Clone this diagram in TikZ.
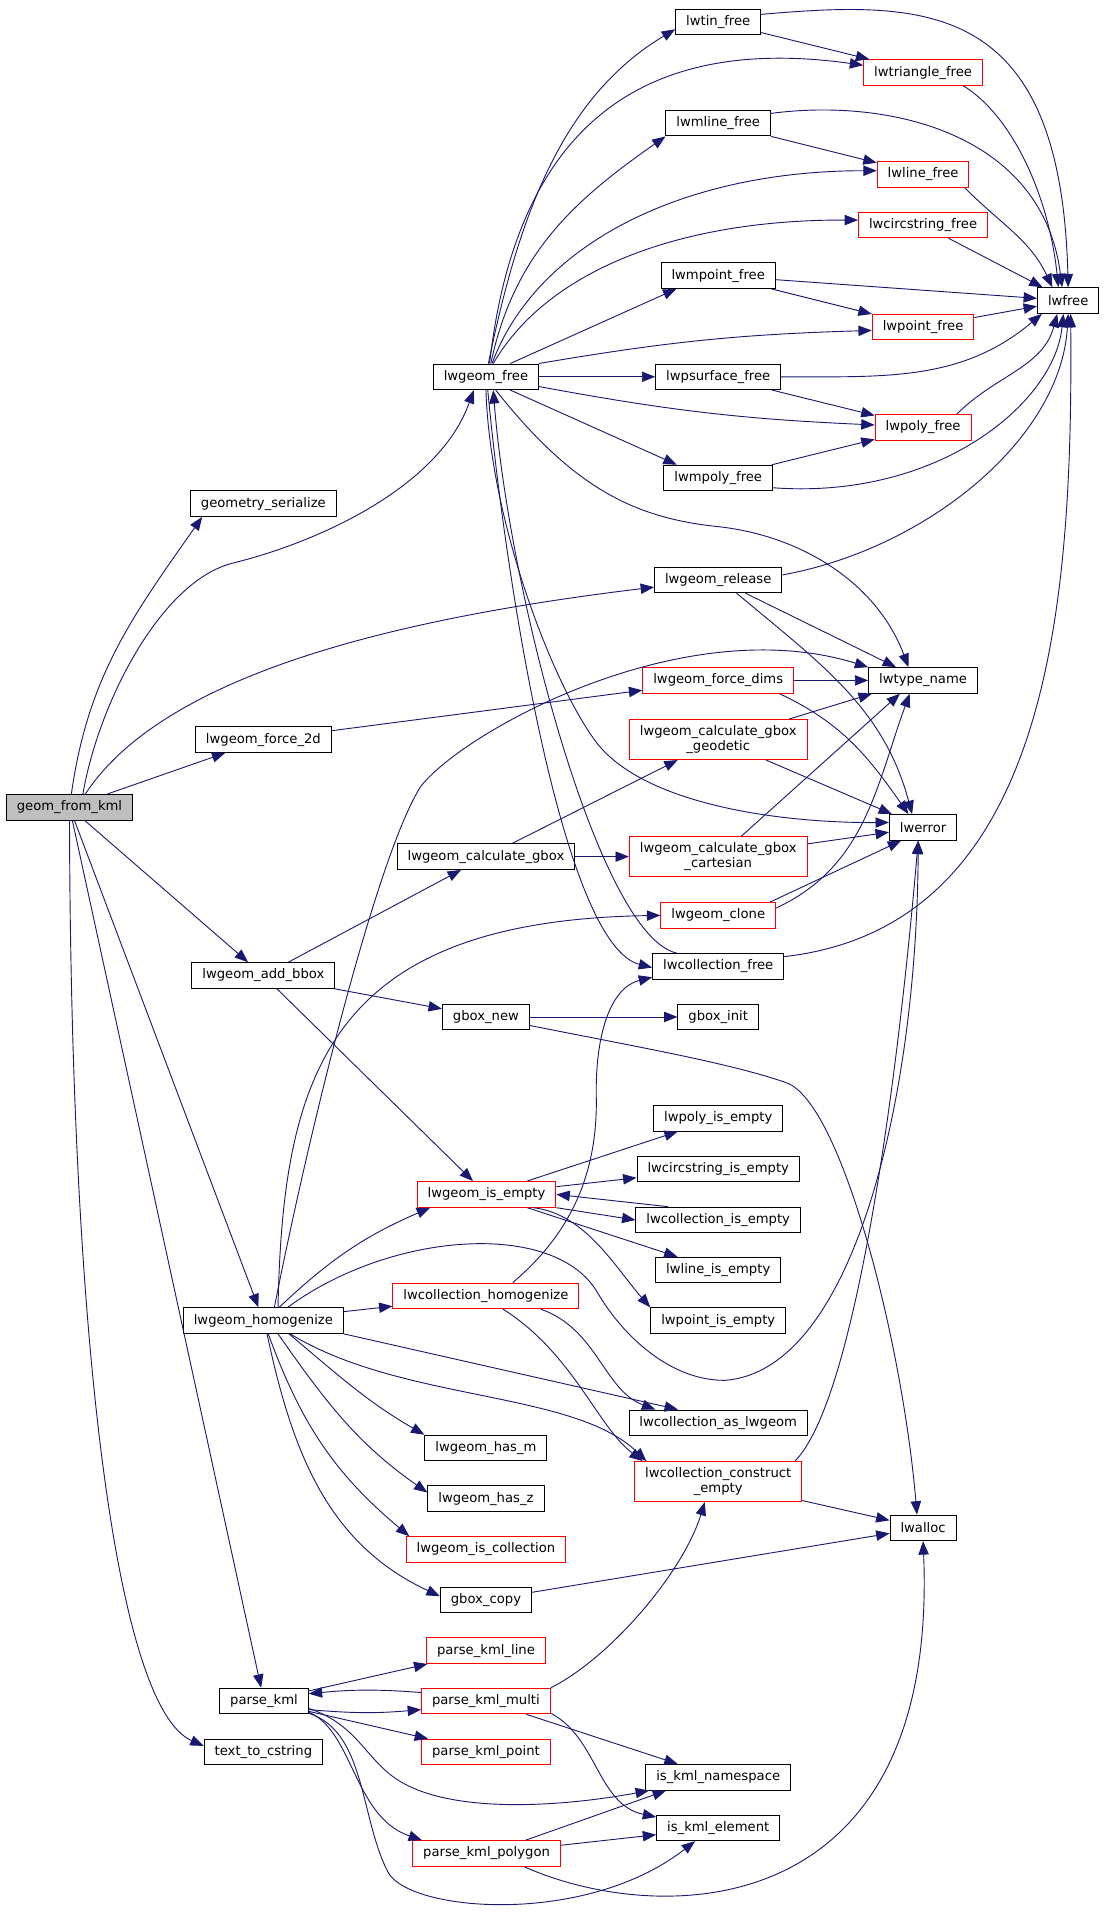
\documentclass[tikz,border=0pt]{standalone}
\usepackage{fontspec}
\setmainfont{DejaVu Sans}
\usetikzlibrary{arrows.meta}

\definecolor{callblue}{HTML}{191970}
\definecolor{rootgray}{HTML}{BFBFBF}

\tikzset{
  fn/.style={draw=black, line width=0.8pt, fill=white, inner xsep=8.6pt, inner ysep=5pt,
    minimum height=21pt, align=center, font=\fontsize{10.8}{12}\selectfont},
  fnred/.style={fn, draw=red},
  fnroot/.style={fn, fill=rootgray},
  call/.style={draw=callblue, line width=0.75pt, -{Triangle[length=11pt,width=8.5pt]}}
}

\begin{document}
\begin{tikzpicture}[x=1pt,y=1pt]
\useasboundingbox (0,0) rectangle (905,-1568);

% functions
\node[fn] (tinfree) at (589,-18) {lwtin\_free};
\node[fnred] (trifree) at (757,-59.5) {lwtriangle\_free};
\node[fn] (mlinefree) at (589,-101) {lwmline\_free};
\node[fnred] (linefree) at (757,-143) {lwline\_free};
\node[fnred] (circfree) at (757,-184.5) {lwcircstring\_free};
\node[fn] (mpointfree) at (589,-226) {lwmpoint\_free};
\node[fn] (lwfree) at (876,-246.5) {lwfree};
\node[fnred] (pointfree) at (757,-268) {lwpoint\_free};
\node[fn] (gfree) at (398.5,-309) {lwgeom\_free};
\node[fn] (psurffree) at (589,-309) {lwpsurface\_free};
\node[fnred] (polyfree) at (757,-350.5) {lwpoly\_free};
\node[fn] (mpolyfree) at (589,-392) {lwmpoly\_free};
\node[fn] (geomser) at (216,-413) {geometry\_serialize};
\node[fn] (release) at (589,-475.5) {lwgeom\_release};
\node[fnred] (forcedims) at (589,-558) {lwgeom\_force\_dims};
\node[fn] (typename) at (757,-558) {lwtype\_name};
\node[fn] (force2d) at (216,-606.5) {lwgeom\_force\_2d};
\node[fnred] (geodetic) at (589,-606.5) {lwgeom\_calculate\_gbox\\\_geodetic};
\node[fnroot] (kml) at (57,-662) {geom\_from\_kml};
\node[fn] (lwerror) at (757,-678.5) {lwerror};
\node[fn] (calcgbox) at (398.5,-702.5) {lwgeom\_calculate\_gbox};
\node[fnred] (cartesian) at (589,-702.5) {lwgeom\_calculate\_gbox\\\_cartesian};
\node[fnred] (clone) at (589,-750.7) {lwgeom\_clone};
\node[fn] (collfree) at (589,-792.5) {lwcollection\_free};
\node[fn] (addbbox) at (216,-800) {lwgeom\_add\_bbox};
\node[fn] (gboxnew) at (398.5,-834) {gbox\_new};
\node[fn] (gboxinit) at (589,-834) {gbox\_init};
\node[fn] (polyempty) at (589,-917) {lwpoly\_is\_empty};
\node[fn] (circempty) at (589,-958.5) {lwcircstring\_is\_empty};
\node[fnred] (isempty) at (399,-979.5) {lwgeom\_is\_empty};
\node[fn] (collempty) at (589,-1000.5) {lwcollection\_is\_empty};
\node[fn] (lineempty) at (589,-1041.6) {lwline\_is\_empty};
\node[fnred] (collhomog) at (398.5,-1062.7) {lwcollection\_homogenize};
\node[fn] (homog) at (216,-1083) {lwgeom\_homogenize};
\node[fn] (pointempty) at (589,-1083) {lwpoint\_is\_empty};
\node[fn] (collaslw) at (589,-1166.8) {lwcollection\_as\_lwgeom};
\node[fn] (hasm) at (398.5,-1187.5) {lwgeom\_has\_m};
\node[fnred] (construct) at (589,-1215) {lwcollection\_construct\\\_empty};
\node[fn] (hasz) at (398.5,-1229) {lwgeom\_has\_z};
\node[fn] (lwalloc) at (757,-1253) {lwalloc};
\node[fnred] (iscoll) at (398.5,-1270.7) {lwgeom\_is\_collection};
\node[fn] (gboxcopy) at (398.5,-1312) {gbox\_copy};
\node[fnred] (kmlline) at (398.5,-1353.7) {parse\_kml\_line};
\node[fn] (parsekml) at (216.5,-1395) {parse\_kml};
\node[fnred] (kmlmulti) at (398.5,-1395) {parse\_kml\_multi};
\node[fn] (textcs) at (216,-1436.8) {text\_to\_cstring};
\node[fnred] (kmlpoint) at (398.5,-1436.8) {parse\_kml\_point};
\node[fn] (namespace) at (589,-1457.5) {is\_kml\_namespace};
\node[fn] (element) at (589,-1499) {is\_kml\_element};
\node[fnred] (kmlpoly) at (399,-1520) {parse\_kml\_polygon};

% geom_from_kml
\draw[call] (kml) to[out=82,in=235] ([xshift=10pt]geomser.south west);
\draw[call] ([xshift=11pt]kml.north) .. controls (80,-580) and (130,-478) .. (190,-462) .. controls (260,-445) and (360,-400) .. ([xshift=-10pt]gfree.south);
\draw[call] ([xshift=13pt]kml.north) .. controls (130,-560) and (300,-510) .. ([yshift=-6pt]release.west);
\draw[call] (kml) -- (force2d);
\draw[call] (kml) -- (addbbox);
\draw[call] (kml) -- (homog);
\draw[call] (kml) -- (parsekml);
\draw[call] (kml.south) .. controls (58,-1100) and (95,-1400) .. ([yshift=5pt]textcs.west);

% lwgeom_free
\draw[call] ([xshift=2pt]gfree.north) .. controls (425,-179) and (460,-80) .. ([yshift=-6pt]tinfree.west);
\draw[call] ([xshift=3pt]gfree.north) .. controls (425,-90) and (540,-30) .. ([yshift=6pt]trifree.west);
\draw[call] ([xshift=4pt]gfree.north) to[out=78,in=215] (mlinefree.south west);
\draw[call] ([xshift=5pt]gfree.north) .. controls (440,-200) and (560,-140) .. ([yshift=3pt]linefree.west);
\draw[call] ([xshift=6pt]gfree.north) .. controls (450,-220) and (560,-180) .. ([yshift=4pt]circfree.west);
\draw[call] ([xshift=20pt]gfree.north) -- ([xshift=13pt]mpointfree.south west);
\draw[call] (gfree.north east) to[bend left=4] ([yshift=-3pt]pointfree.west);
\draw[call] (gfree) -- (psurffree);
\draw[call] ([yshift=-8pt]gfree.east) to[bend right=4] ([yshift=2pt]polyfree.west);
\draw[call] ([xshift=20pt]gfree.south) -- ([xshift=-34pt]mpolyfree.north);
\draw[call] ([xshift=8pt]gfree.south) .. controls (470,-400) and (520,-425) .. (590,-432) .. controls (660,-440) and (720,-480) .. ([xshift=-12pt]typename.north);
\draw[call] (gfree.south) .. controls (402,-430) and (455,-565) .. (490,-610) .. controls (530,-660) and (640,-675) .. ([yshift=4pt]lwerror.west);
\draw[call] ([xshift=1.5pt]gfree.south) .. controls (415,-480) and (462,-775) .. ([yshift=-1pt]collfree.west);
\draw[call] ([xshift=-34pt]collfree.north) .. controls (492,-768) and (418,-490) .. ([xshift=6pt]gfree.south);

% into lwfree
\draw[call] (tinfree) -- (trifree);
\draw[call] (tinfree.10) .. controls (760,0) and (870,0) .. (lwfree.north);
\draw[call] ([xshift=-16pt]trifree.south east) .. controls (830,-95) and (860,-160) .. ([xshift=-8pt]lwfree.north);
\draw[call] (mlinefree) -- (linefree);
\draw[call] ([yshift=8pt]mlinefree.east) .. controls (730,-80) and (855,-110) .. ([xshift=-5pt]lwfree.north);
\draw[call] ([xshift=-4pt]linefree.south east) to[out=-45,in=115] ([xshift=-13pt]lwfree.north);
\draw[call] (circfree) -- (lwfree);
\draw[call] (mpointfree) -- (pointfree);
\draw[call] (mpointfree) -- (lwfree);
\draw[call] (pointfree) -- (lwfree);
\draw[call] (psurffree) -- (polyfree);
\draw[call] (psurffree.east) to[out=0,in=-140] ([xshift=4pt]lwfree.south west);
\draw[call] (mpolyfree) -- (polyfree);
\draw[call] ([xshift=-12pt]polyfree.north east) to[out=45,in=-105] ([xshift=-9pt]lwfree.south);
\draw[call] ([yshift=-8pt]mpolyfree.east) .. controls (770,-410) and (865,-330) .. ([xshift=-4pt]lwfree.south);
\draw[call] ([yshift=4pt]release.east) .. controls (760,-450) and (870,-360) .. (lwfree.south);
\draw[call] ([yshift=8pt]collfree.east) .. controls (860,-760) and (880,-500) .. ([xshift=2pt]lwfree.south);

% lwtype_name and lwerror
\draw[call] (release) -- (typename);
\draw[call] ([xshift=15pt]release.south) to[out=-40,in=105] ([xshift=-9pt]lwerror.north);
\draw[call] (force2d) -- (forcedims);
\draw[call] (forcedims) -- (typename);
\draw[call] ([xshift=-12pt]forcedims.south east) to[out=-25,in=125] ([xshift=-12pt]lwerror.north);
\draw[call] ([xshift=58pt]geodetic.north) -- ([xshift=-42pt]typename.south);
\draw[call] (geodetic) -- (lwerror);
\draw[call] (calcgbox) -- (geodetic);
\draw[call] (calcgbox) -- (cartesian);
\draw[call] (cartesian) -- (lwerror);
\draw[call] ([xshift=19pt]cartesian.north) -- ([xshift=-19pt]typename.south);
\draw[call] ([xshift=-5pt]clone.north east) -- ([xshift=-18pt]lwerror.south);
\draw[call] ([yshift=6pt]clone.east) to[out=25,in=-110] ([xshift=-11pt]typename.south);

% lwgeom_add_bbox
\draw[call] (addbbox) -- (calcgbox);
\draw[call] (addbbox) -- (gboxnew);
\draw[call] (addbbox) -- (isempty);
\draw[call] (gboxnew) -- (gboxinit);
\draw[call] ([yshift=-7pt]gboxnew.east) .. controls (520,-858) and (600,-872) .. (645,-888) .. controls (690,-904) and (740,-1100) .. ([xshift=-5pt]lwalloc.north);

% lwgeom_homogenize
\draw[call] ([xshift=9pt]homog.north) .. controls (255,-920) and (310,-700) .. (345,-645) .. controls (380,-600) and (560,-500) .. (typename.north west);
\draw[call] ([xshift=12pt]homog.north) .. controls (232,-880) and (270,-755) .. (clone.west);
\draw[call] ([xshift=13pt]homog.north) to[bend left=10] ([xshift=11pt]isempty.south west);
\draw[call] ([xshift=20pt]homog.north) .. controls (320,-1010) and (455,-1000) .. (490,-1060) .. controls (511,-1096) and (550,-1132) .. (594,-1132) .. controls (700,-1125) and (752,-900) .. ([xshift=-4pt]lwerror.south);
\draw[call] (homog) -- (collhomog);
\draw[call] (homog.south east) -- ([xshift=-33pt]collaslw.north);
\draw[call] ([xshift=22pt]homog.south) .. controls (330,-1150) and (470,-1140) .. ([xshift=10pt]construct.north west);
\draw[call] ([xshift=21pt]homog.south) to[out=-40,in=150] (hasm.north west);
\draw[call] ([xshift=12pt]homog.south) to[out=-55,in=145] ([yshift=5pt]hasz.west);
\draw[call] ([xshift=4pt]homog.south) to[out=-70,in=140] ([xshift=3pt]iscoll.north west);
\draw[call] ([xshift=3pt]homog.south) to[out=-78,in=155] ([yshift=3pt]gboxcopy.west);

% lwcollection_homogenize
\draw[call] ([xshift=22pt]collhomog.north) .. controls (470,-1010) and (490,-960) .. (489,-900) .. controls (488,-850) and (500,-810) .. ([yshift=2pt]collfree.south west);
\draw[call] ([xshift=45pt]collhomog.south) .. controls (490,-1090) and (495,-1140) .. ([xshift=22pt]collaslw.north west);
\draw[call] ([xshift=14pt]collhomog.south) .. controls (470,-1110) and (490,-1170) .. ([xshift=7pt]construct.north west);

% lwgeom_is_empty
\draw[call] (isempty) -- (polyempty);
\draw[call] (isempty) -- (circempty);
\draw[call] (isempty.south east) -- (collempty.west);
\draw[call] ([xshift=-41pt]collempty.north) -- (isempty.east);
\draw[call] (isempty) -- (lineempty);
\draw[call] ([xshift=38pt]isempty.south) .. controls (480,-995) and (505,-1040) .. (pointempty.north west);

% lwalloc
\draw[call] ([xshift=-6pt]construct.north east) .. controls (700,-1150) and (735,-900) .. ([xshift=-4pt]lwerror.south);
\draw[call] (construct) -- (lwalloc);
\draw[call] (gboxcopy) -- (lwalloc);

% parse_kml
\draw[call] (parsekml) -- (kmlline);
\draw[call] ([yshift=-7pt]parsekml.east) to[bend right=5] ([yshift=-7pt]kmlmulti.west);
\draw[call] ([yshift=7pt]kmlmulti.west) to[bend right=5] ([yshift=6pt]parsekml.east);
\draw[call] (parsekml) -- (kmlpoint);
\draw[call] ([yshift=-6pt]parsekml.east) .. controls (295,-1415) and (300,-1445) .. (330,-1462) .. controls (378,-1489) and (470,-1480) .. ([xshift=3pt]namespace.south west);
\draw[call] ([yshift=-9pt]parsekml.east) .. controls (290,-1420) and (290,-1490) .. ([xshift=8pt]kmlpoly.north west);
\draw[call] ([yshift=-10pt]parsekml.east) .. controls (300,-1420) and (295,-1490) .. (318,-1535) .. controls (335,-1568) and (480,-1580) .. ([xshift=-19pt]element.south);
\draw[call] (kmlmulti.north east) .. controls (500,-1360) and (560,-1290) .. ([xshift=-11pt]construct.south);
\draw[call] (kmlmulti) -- (namespace);
\draw[call] ([yshift=-10pt]kmlmulti.east) .. controls (490,-1425) and (490,-1480) .. ([yshift=-2pt]element.north west);
\draw[call] ([xshift=32pt]kmlpoly.north) -- ([xshift=17pt]namespace.south west);
\draw[call] (kmlpoly) -- (element);
\draw[call] ([xshift=31pt]kmlpoly.south) .. controls (540,-1580) and (770,-1580) .. (lwalloc.south);

\end{tikzpicture}
\end{document}
